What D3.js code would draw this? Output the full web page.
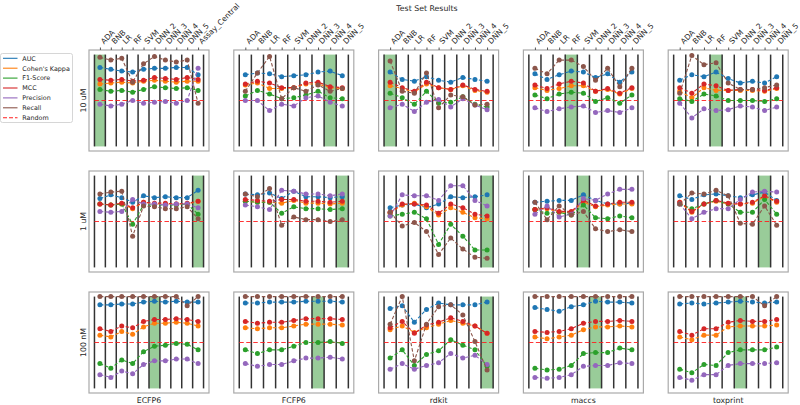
<!DOCTYPE html>
<html><head><meta charset="utf-8">
<script src="https://cdn.jsdelivr.net/npm/d3@7"></script>
<style>body{margin:0;background:#fff}svg{display:block;font-family:"DejaVu Sans",sans-serif}</style>
</head><body><svg id="c" width="800" height="405"></svg>
<script>
const models = ["ADA","BNB","LR","RF","SVM","DNN_2","DNN_3","DNN_4","DNN_5","Assay_Central"];
const fingerprints = ["ECFP6","FCFP6","rdkit","maccs","toxprint"];
const thresholds = ["10 uM","1 uM","100 nM"];
const metrics = ["AUC","Cohen's Kappa","F1-Score","MCC","Precision","Recall"];
const metricColors = ["#1f77b4","#ff7f0e","#2ca02c","#d62728","#9467bd","#8c564b"];
const randomLevel = 0.5;
const title = "Test Set Results";
// best model index (green highlight) per threshold row x fingerprint column
const best10uM = [0,7,0,3,3];
const best1uM = [9,8,8,4,7];
const best100nM = [5,6,8,5,5];
// each panel: rows in metric order AUC, Kappa, F1, MCC, Precision, Recall
const ECFP6_10uM = [
 [0.86,0.84,0.82,0.81,0.84,0.85,0.85,0.86,0.86,0.78],
 [0.68,0.69,0.70,0.69,0.71,0.72,0.71,0.70,0.71,0.71],
 [0.62,0.60,0.61,0.59,0.62,0.65,0.64,0.63,0.64,0.61],
 [0.73,0.72,0.73,0.71,0.72,0.75,0.74,0.73,0.75,0.73],
 [0.46,0.44,0.46,0.50,0.47,0.48,0.49,0.47,0.50,0.85],
 [0.97,0.94,0.96,0.70,0.90,0.98,0.94,0.92,0.94,0.47]];
const FCFP6_10uM = [
 [0.78,0.80,0.79,0.76,0.77,0.78,0.81,0.82,0.77],
 [0.67,0.69,0.63,0.63,0.64,0.68,0.68,0.64,0.63],
 [0.55,0.61,0.57,0.52,0.53,0.56,0.60,0.53,0.52],
 [0.68,0.71,0.69,0.64,0.64,0.69,0.70,0.65,0.64],
 [0.50,0.50,0.39,0.46,0.44,0.53,0.55,0.48,0.44],
 [0.60,0.80,0.98,0.52,0.64,0.60,0.67,0.60,0.63]];
const rdkit_10uM = [
 [0.81,0.73,0.71,0.76,0.72,0.70,0.75,0.73,0.71],
 [0.66,0.63,0.59,0.68,0.64,0.62,0.66,0.61,0.59],
 [0.58,0.53,0.46,0.60,0.47,0.48,0.54,0.46,0.43],
 [0.70,0.64,0.60,0.70,0.64,0.62,0.67,0.62,0.60],
 [0.42,0.46,0.38,0.48,0.51,0.43,0.52,0.45,0.40],
 [0.93,0.60,0.58,0.80,0.42,0.56,0.54,0.45,0.46]];
const maccs_10uM = [
 [0.79,0.73,0.78,0.82,0.81,0.75,0.79,0.70,0.81],
 [0.64,0.61,0.63,0.66,0.66,0.60,0.62,0.57,0.63],
 [0.56,0.52,0.57,0.59,0.58,0.49,0.53,0.47,0.56],
 [0.67,0.63,0.68,0.71,0.69,0.60,0.63,0.58,0.64],
 [0.42,0.38,0.41,0.43,0.44,0.37,0.39,0.37,0.42],
 [0.85,0.79,0.94,0.94,0.87,0.72,0.85,0.65,0.85]];
const toxprint_10uM = [
 [0.72,0.78,0.76,0.81,0.74,0.69,0.71,0.69,0.76],
 [0.60,0.53,0.64,0.61,0.61,0.61,0.61,0.60,0.63],
 [0.52,0.49,0.57,0.55,0.50,0.50,0.50,0.49,0.52],
 [0.64,0.58,0.68,0.66,0.61,0.62,0.62,0.61,0.64],
 [0.47,0.31,0.41,0.39,0.40,0.44,0.43,0.39,0.43],
 [0.58,0.99,0.89,0.91,0.69,0.62,0.62,0.64,0.67]];
const ECFP6_1uM = [
 [0.75,0.79,0.76,0.71,0.78,0.76,0.77,0.76,0.76,0.84],
 [0.69,0.68,0.69,0.64,0.71,0.69,0.69,0.69,0.69,0.72],
 [0.69,0.68,0.69,0.47,0.68,0.68,0.68,0.68,0.69,0.58],
 [0.69,0.68,0.70,0.65,0.71,0.70,0.70,0.69,0.70,0.72],
 [0.61,0.60,0.61,0.74,0.69,0.69,0.68,0.69,0.69,0.65],
 [0.80,0.82,0.83,0.34,0.67,0.66,0.64,0.64,0.66,0.53]];
const FCFP6_1uM = [
 [0.80,0.79,0.81,0.75,0.83,0.77,0.77,0.76,0.77],
 [0.72,0.71,0.71,0.70,0.73,0.70,0.70,0.69,0.70],
 [0.72,0.71,0.71,0.59,0.66,0.64,0.64,0.63,0.64],
 [0.74,0.73,0.72,0.74,0.74,0.72,0.72,0.71,0.72],
 [0.68,0.66,0.63,0.84,0.83,0.80,0.80,0.78,0.80],
 [0.80,0.77,0.86,0.46,0.55,0.52,0.52,0.50,0.52]];
const rdkit_1uM = [
 [0.65,0.68,0.69,0.65,0.69,0.77,0.76,0.77,0.79],
 [0.59,0.68,0.70,0.66,0.57,0.65,0.60,0.54,0.53],
 [0.56,0.58,0.60,0.53,0.25,0.47,0.34,0.19,0.19],
 [0.60,0.69,0.69,0.68,0.59,0.69,0.65,0.58,0.56],
 [0.56,0.79,0.78,0.78,0.73,0.89,0.89,0.73,0.67],
 [0.60,0.45,0.49,0.39,0.14,0.32,0.20,0.11,0.10]];
const maccs_1uM = [
 [0.71,0.72,0.73,0.73,0.79,0.73,0.69,0.69,0.70],
 [0.63,0.64,0.60,0.60,0.71,0.66,0.68,0.69,0.69],
 [0.63,0.59,0.60,0.57,0.68,0.54,0.53,0.56,0.54],
 [0.63,0.65,0.61,0.61,0.73,0.67,0.69,0.71,0.71],
 [0.58,0.67,0.55,0.58,0.75,0.73,0.80,0.85,0.85],
 [0.71,0.52,0.67,0.57,0.61,0.42,0.39,0.41,0.39]];
const toxprint_1uM = [
 [0.78,0.74,0.79,0.80,0.78,0.76,0.79,0.82,0.73],
 [0.71,0.60,0.69,0.72,0.69,0.69,0.70,0.77,0.71],
 [0.69,0.64,0.69,0.73,0.69,0.60,0.60,0.74,0.58],
 [0.71,0.61,0.69,0.73,0.70,0.69,0.71,0.78,0.72],
 [0.69,0.53,0.60,0.64,0.64,0.74,0.82,0.83,0.82],
 [0.69,0.81,0.80,0.84,0.78,0.48,0.47,0.67,0.46]];
const ECFP6_100nM = [
 [0.91,0.91,0.92,0.92,0.94,0.95,0.94,0.95,0.94,0.94],
 [0.58,0.56,0.62,0.59,0.67,0.71,0.71,0.72,0.71,0.68],
 [0.27,0.22,0.31,0.27,0.40,0.46,0.47,0.49,0.48,0.42],
 [0.65,0.62,0.68,0.66,0.73,0.75,0.75,0.76,0.75,0.73],
 [0.15,0.12,0.19,0.16,0.26,0.30,0.30,0.32,0.32,0.27],
 [1.00,1.00,1.00,1.00,1.00,1.00,1.00,1.00,0.90,1.00]];
const FCFP6_100nM = [
 [0.93,0.93,0.94,0.94,0.94,0.95,0.95,0.95,0.94],
 [0.66,0.65,0.66,0.66,0.68,0.70,0.70,0.70,0.69],
 [0.42,0.38,0.42,0.42,0.46,0.50,0.50,0.51,0.49],
 [0.73,0.71,0.72,0.72,0.74,0.76,0.76,0.76,0.75],
 [0.27,0.24,0.26,0.26,0.30,0.33,0.33,0.34,0.32],
 [1.00,1.00,1.00,1.00,1.00,1.00,1.00,1.00,1.00]];
const rdkit_100nM = [
 [0.87,0.90,0.72,0.86,0.93,0.91,0.91,0.91,0.94],
 [0.64,0.68,0.61,0.66,0.70,0.74,0.71,0.68,0.60],
 [0.33,0.42,0.25,0.37,0.41,0.53,0.47,0.42,0.24],
 [0.66,0.73,0.60,0.69,0.72,0.77,0.73,0.68,0.60],
 [0.21,0.27,0.21,0.25,0.28,0.38,0.33,0.36,0.26],
 [0.70,1.00,0.30,0.70,0.89,0.91,0.80,0.51,0.20]];
const maccs_100nM = [
 [0.88,0.86,0.84,0.89,0.91,0.95,0.94,0.94,0.93],
 [0.56,0.54,0.56,0.58,0.64,0.67,0.67,0.68,0.67],
 [0.22,0.20,0.21,0.25,0.38,0.39,0.39,0.44,0.42],
 [0.62,0.61,0.62,0.65,0.71,0.73,0.73,0.74,0.73],
 [0.12,0.11,0.12,0.15,0.24,0.25,0.25,0.28,0.27],
 [1.00,1.00,1.00,1.00,1.00,1.00,1.00,1.00,1.00]];
const toxprint_100nM = [
 [0.92,0.93,0.92,0.93,0.94,0.95,0.94,0.93,0.94],
 [0.56,0.53,0.58,0.58,0.67,0.68,0.68,0.68,0.69],
 [0.21,0.17,0.26,0.25,0.39,0.42,0.42,0.42,0.45],
 [0.62,0.58,0.65,0.65,0.72,0.74,0.73,0.73,0.75],
 [0.12,0.09,0.15,0.15,0.25,0.27,0.27,0.27,0.28],
 [1.00,1.00,1.00,1.00,1.00,1.00,1.00,0.90,1.00]];

const grid = [
 [ECFP6_10uM, FCFP6_10uM, rdkit_10uM, maccs_10uM, toxprint_10uM],
 [ECFP6_1uM, FCFP6_1uM, rdkit_1uM, maccs_1uM, toxprint_1uM],
 [ECFP6_100nM, FCFP6_100nM, rdkit_100nM, maccs_100nM, toxprint_100nM]];
const bests = [best10uM, best1uM, best100nM];

const svg = d3.select("#c");
const W = 120, H = 101;
const lefts = fingerprints.map((f,i) => 89 + i*144.8);
const tops = thresholds.map((t,i) => 50 + i*121);
const textCol = "#262626";

svg.append("text").attr("x",427).attr("y",11).attr("text-anchor","middle")
  .attr("font-size",7.8).attr("fill",textCol).text(title);

grid.forEach((row, r) => {
  row.forEach((panel, c) => {
    const n = panel[0].length;
    const cats = models.slice(0, n);
    const x = d3.scaleLinear().domain([-0.5-0.05*n, n-0.5+0.05*n]).range([lefts[c], lefts[c]+W]);
    const y = d3.scaleLinear().domain([-0.05, 1.05]).range([tops[r]+H, tops[r]]);
    const g = svg.append("g");
    g.append("rect").attr("x",lefts[c]).attr("y",tops[r]).attr("width",W).attr("height",H)
      .attr("fill","#fff");
    const b = bests[r][c];
    g.append("rect").attr("x",x(b-0.5)).attr("y",y(1)).attr("width",x(b+0.5)-x(b-0.5))
      .attr("height",y(0)-y(1)).attr("fill","#008000").attr("fill-opacity",0.4);
    d3.range(n+1).forEach(i => {
      g.append("line").attr("x1",x(i-0.5)).attr("x2",x(i-0.5)).attr("y1",y(0)).attr("y2",y(1))
        .attr("stroke","#333").attr("stroke-width",1.5);
    });
    g.append("line").attr("x1",x(-0.5)).attr("x2",x(n-0.5)).attr("y1",y(randomLevel)).attr("y2",y(randomLevel))
      .attr("stroke","#ff2020").attr("stroke-width",1.2).attr("stroke-dasharray","4.5,2.5").attr("opacity",0.9);
    const line = d3.line().x((d,i)=>x(i)).y(d=>y(d));
    panel.forEach((vals, m) => {
      g.append("path").attr("d", line(vals)).attr("fill","none").attr("stroke",metricColors[m])
        .attr("stroke-width",1.1).attr("stroke-dasharray","3.5,2");
      g.selectAll(null).data(vals).enter().append("circle")
        .attr("cx",(d,i)=>x(i)).attr("cy",d=>y(d)).attr("r",2.5).attr("fill",metricColors[m]);
    });
    g.append("rect").attr("x",lefts[c]).attr("y",tops[r]).attr("width",W).attr("height",H)
      .attr("fill","none").attr("stroke","#aaa").attr("stroke-width",1.2);
    if (r === 0) {
      const ax = d3.axisTop(x).tickValues(d3.range(n)).tickFormat(i => cats[i]).tickSize(2.5).tickPadding(2);
      const a = g.append("g").attr("transform",`translate(0,${tops[r]})`).call(ax);
      a.select(".domain").remove();
      a.selectAll(".tick line").attr("stroke","#555");
      a.selectAll(".tick text").attr("font-size",7.6).attr("fill",textCol)
        .attr("font-family","DejaVu Sans").attr("text-anchor","start")
        .attr("transform","translate(3.5,-5.5) rotate(-45)").attr("dy",0).attr("y",0);
    }
    if (r === grid.length-1) {
      g.append("text").attr("x",lefts[c]+W/2).attr("y",tops[r]+H+9.5).attr("text-anchor","middle")
        .attr("font-size",7.8).attr("fill",textCol).text(fingerprints[c]);
    }
    if (c === 0) {
      g.append("text").attr("transform",`translate(86,${tops[r]+H/2}) rotate(-90)`).attr("text-anchor","middle")
        .attr("font-size",7.8).attr("fill",textCol).text(thresholds[r]);
    }
  });
});

// legend
const lg = svg.append("g");
lg.append("rect").attr("x",0.5).attr("y",53.5).attr("width",72).attr("height",69).attr("rx",2)
  .attr("fill","#fff").attr("stroke","#ccc").attr("stroke-width",0.8);
const legendItems = metrics.map((m,i)=>({label:m,color:metricColors[i],dash:null}))
  .concat([{label:"Random",color:"#ff2020",dash:"4,2"}]);
legendItems.forEach((it,i) => {
  const yy = 58.3 + i*9.9;
  lg.append("line").attr("x1",3).attr("x2",17.5).attr("y1",yy).attr("y2",yy).attr("stroke",it.color)
    .attr("stroke-width",1.1).attr("stroke-dasharray",it.dash);
  lg.append("text").attr("x",22.3).attr("y",yy+2.3).attr("font-size",6.4).attr("fill",textCol).text(it.label);
});
</script></body></html>
